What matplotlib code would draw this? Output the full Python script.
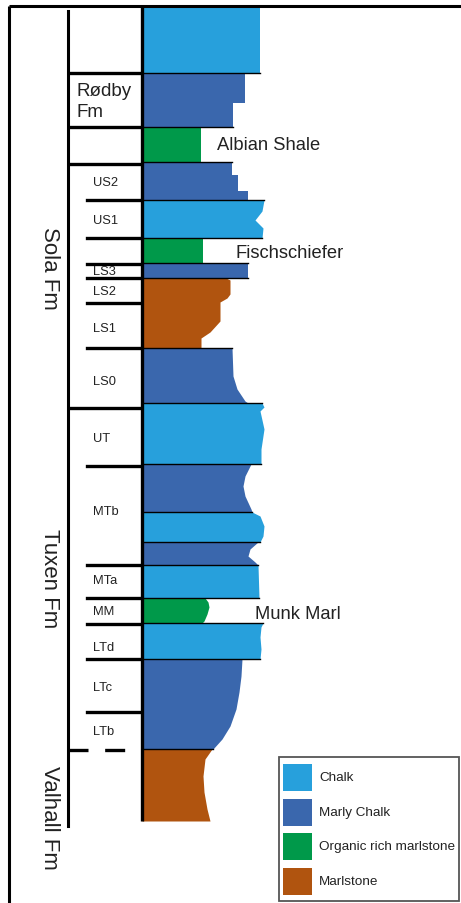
import matplotlib.pyplot as plt
from matplotlib.patches import Rectangle

plt.rcParams['font.family'] = ['Liberation Sans', 'DejaVu Sans']

# lithology colours
colors = {
    'Chalk': '#27a0dc',
    'Marly Chalk': '#3a67ad',
    'Organic rich marlstone': '#00994a',
    'Marlstone': '#b0540f',
}

# beds from top to base: lithology, and right-hand profile as (depth, width) points
bed_lith = ['Chalk', 'Marly Chalk', 'Organic rich marlstone', 'Marly Chalk', 'Chalk',
            'Organic rich marlstone', 'Marly Chalk', 'Marlstone', 'Marly Chalk', 'Chalk',
            'Marly Chalk', 'Chalk', 'Marly Chalk', 'Chalk', 'Organic rich marlstone',
            'Chalk', 'Marly Chalk', 'Marlstone']
bed_depth = [
    [0, 66],
    [66, 96, 96, 120],
    [120, 155],
    [155, 168, 168, 184, 184, 193],
    [193, 204, 213, 221, 231],
    [231, 256],
    [256, 271],
    [271, 273, 287, 291, 295, 314, 325, 331, 341],
    [341, 369, 382, 394, 396],
    [396, 400, 404, 422, 442, 457],
    [457, 469, 479, 489, 502, 505],
    [505, 509, 519, 529, 535],
    [535, 542, 549, 555, 558],
    [558, 591],
    [591, 595, 600, 607, 614, 616],
    [616, 620, 630, 642, 652],
    [652, 669, 685, 702, 719, 732, 742],
    [742, 752, 769, 785, 802, 814],
]
bed_width = [
    [118, 118],
    [103, 103, 91, 91],
    [59, 59],
    [90, 90, 96, 96, 106, 106],
    [122, 120, 113, 121, 120],
    [61, 61],
    [106, 106],
    [84, 88, 88, 85, 78, 78, 68, 59, 59],
    [90, 91, 95, 103, 106],
    [120, 122, 118, 122, 119, 119],
    [109, 103, 101, 103, 109, 110],
    [110, 118, 122, 121, 118],
    [116, 108, 106, 113, 116],
    [116, 117],
    [63, 66, 67, 65, 62, 60],
    [121, 119, 118, 119, 118],
    [100, 99, 97, 94, 88, 80, 71],
    [70, 63, 61, 62, 65, 68],
]

# member subdivision
member_names = ['', '', 'US2', 'US1', '', 'LS3', 'LS2', 'LS1', 'LS0', 'UT', 'MTb',
                'MTa', 'MM', 'LTd', 'LTc', 'LTb']
member_tops = [66, 120, 157, 193, 231, 257, 271, 296, 341, 401, 459, 558, 591, 617, 652, 705]
member_label_depth = [93, 138, 175, 213, 244, 264, 284, 321, 374, 431, 504, 573, 604, 640, 680, 724]
long_ticks = [66, 120, 157, 401]
valhall_top = 743

formations = ['Sola Fm', 'Tuxen Fm', 'Valhall Fm']
formation_label_depth = [260, 571, 810]

side_labels = ['Albian Shale', 'Fischschiefer', 'Munk Marl']
side_label_depth = [138, 245, 607]
side_label_x = [75, 93, 113]

fig = plt.figure(figsize=(4.61, 9.04), dpi=100)
ax = fig.add_axes([0, 0, 1, 1])
ax.set_xlim(-142, 319)
ax.set_ylim(896, -8)
ax.axis('off')

# bed fills
for lith, d, w in zip(bed_lith, bed_depth, bed_width):
    ax.fill_betweenx(d, 0, w, color=colors[lith], lw=0)

# bed boundary lines
for i in range(1, len(bed_depth)):
    top = bed_depth[i][0]
    right = max(bed_width[i - 1][-1], bed_width[i][0])
    ax.plot([0, right], [top, top], color='black', lw=1.0)

# column base line
ax.plot([0, 0], [0, 814], color='black', lw=2.4, solid_capstyle='butt')

# formation bar
ax.plot([-74, -74], [4, 819], color='black', lw=2.2)

# member ticks and labels
for top in member_tops:
    x0 = -71 if top in long_ticks else -55
    ax.plot([x0, -3], [top, top], color='black', lw=2.4)
ax.plot([-74, -3], [valhall_top, valhall_top], color='black', lw=2.4,
        linestyle=(0, (6, 5)))

for name, d in zip(member_names, member_label_depth):
    if name:
        ax.text(-49, d, name, fontsize=9.3, ha='left', va='center', color='#222222')
ax.text(-66, member_label_depth[0] + 1, 'Rødby\nFm', fontsize=13.5, ha='left',
        va='center', linespacing=1.25, color='#222222')

for name, d in zip(formations, formation_label_depth):
    ax.text(-93, d, name, fontsize=16, rotation=270, ha='center', va='center',
            color='#222222')

for name, d, x in zip(side_labels, side_label_depth, side_label_x):
    ax.text(x, d, name, fontsize=13.2, ha='left', va='center', color='#222222')

# outer frame
ax.plot([-133, 319], [-1, -1], color='black', lw=2.2, solid_capstyle='butt')
ax.plot([-133, -133], [-1, 896], color='black', lw=2.2, solid_capstyle='butt')

# legend box
ax.add_patch(Rectangle((137, 750), 180, 144, facecolor='white', edgecolor='#555555',
                       lw=1.3, zorder=5))
for i, (name, c) in enumerate(colors.items()):
    y0 = 757 + i * 34.5
    ax.add_patch(Rectangle((141, y0), 29, 27, facecolor=c, edgecolor='none', zorder=6))
    ax.text(177, y0 + 13.5, name, fontsize=9.7, ha='left', va='center',
            color='#222222', zorder=7)

fig.savefig('out.png', dpi=100)
